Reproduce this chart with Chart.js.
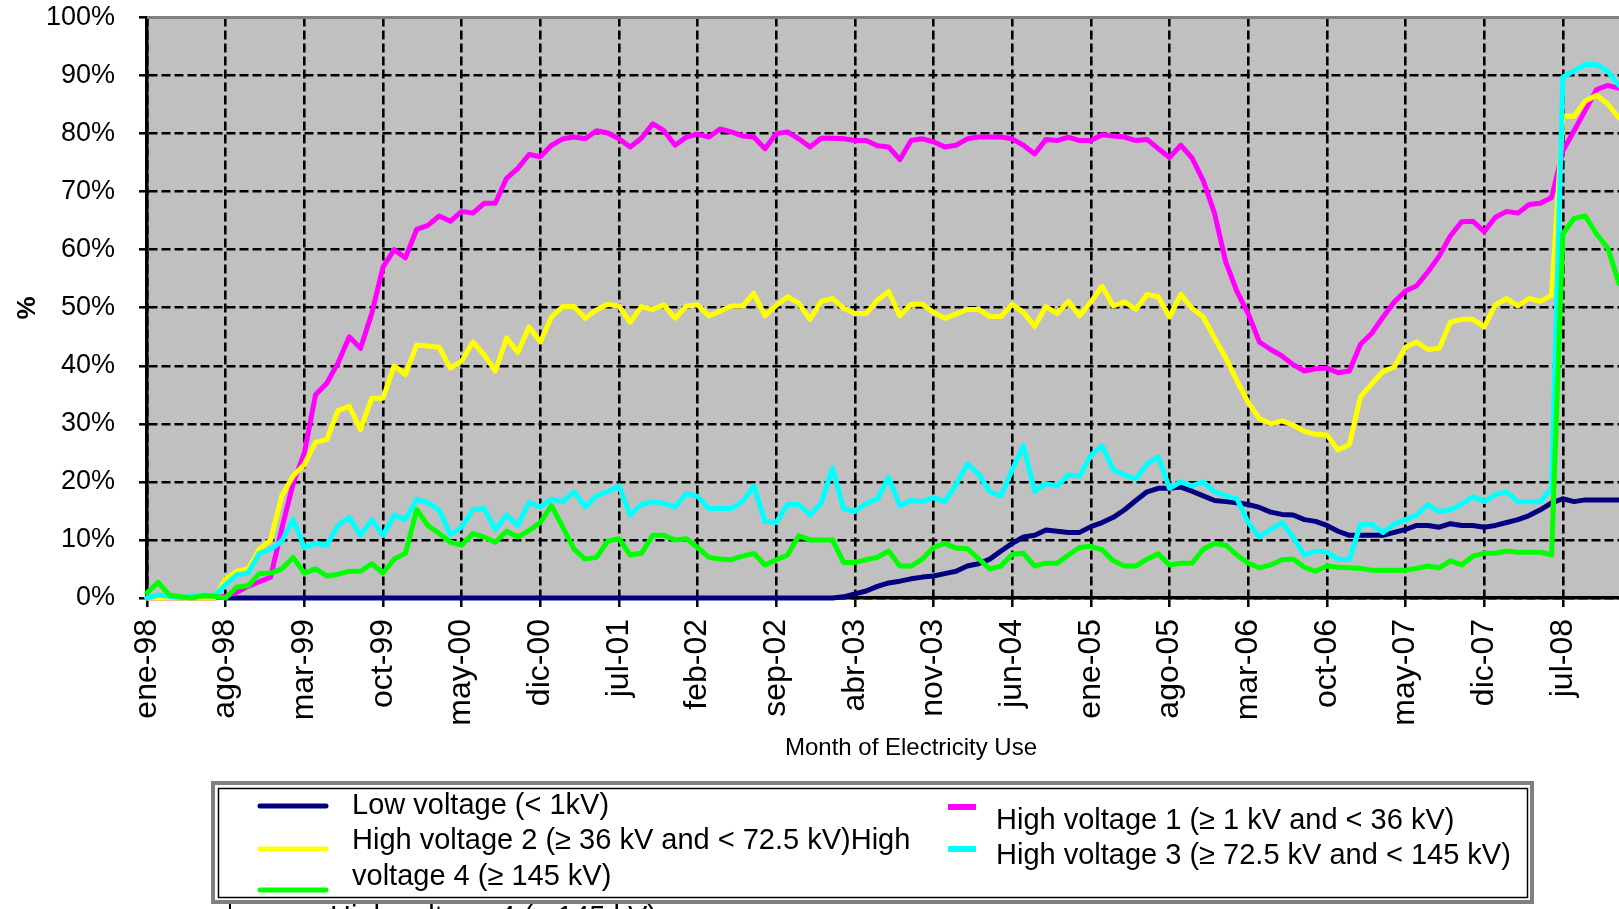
<!DOCTYPE html>
<html>
<head>
<meta charset="utf-8">
<script src="https://cdn.jsdelivr.net/npm/chart.js@4.4.1/dist/chart.umd.min.js"></script>
<style>
html, body { margin: 0; padding: 0; background: #fff; overflow: hidden; }
canvas { display: block; }
</style>
</head>
<body>
<canvas id="chart" width="1619" height="909"></canvas>
<script>
const FONT = "'Liberation Sans', Arial, sans-serif";

// month labels, ene-98 .. dic-08
const MONTHS = ["ene", "feb", "mar", "abr", "may", "jun", "jul", "ago", "sep", "oct", "nov", "dic"];
const YEARS = ["98", "99", "00", "01", "02", "03", "04", "05", "06", "07", "08"];
const LABELS = [];
YEARS.forEach(y => MONTHS.forEach(m => LABELS.push(m + "-" + y)));
const TICK_EVERY = 7;

const SERIES_NAMES = [
    "Low voltage (< 1kV)",
    "High voltage 1 (≥ 1 kV and < 36 kV)",
    "High voltage 2 (≥ 36 kV and < 72.5 kV)",
    "High voltage 3 (≥ 72.5 kV and < 145 kV)",
    "High voltage 4 (≥ 145 kV)",
];
const SERIES_COLORS = ["#000080", "#ff00ff", "#ffff00", "#00ffff", "#00ff00"];

// values in %, one row per year
const LOW = [
    null, null, null, null, null, null, null, 0, 0, 0, 0, 0,
    0, 0, 0, 0, 0, 0, 0, 0, 0, 0, 0, 0,
    0, 0, 0, 0, 0, 0, 0, 0, 0, 0, 0, 0,
    0, 0, 0, 0, 0, 0, 0, 0, 0, 0, 0, 0,
    0, 0, 0, 0, 0, 0, 0, 0, 0, 0, 0, 0,
    0, 0, 0.2, 0.7, 1.2, 2.0, 2.6, 2.9, 3.3, 3.6, 3.8, 4.2,
    4.6, 5.5, 5.9, 6.7, 8.1, 9.4, 10.5, 10.8, 11.7, 11.5, 11.3, 11.3,
    12.3, 13.0, 13.9, 15.2, 16.8, 18.3, 18.9, 18.9, 19.1, 18.4, 17.6, 16.8,
    16.6, 16.4, 16.1, 15.6, 14.8, 14.4, 14.3, 13.5, 13.2, 12.5, 11.5, 10.8,
    10.8, 10.8, 10.8, 11.3, 11.8, 12.5, 12.5, 12.2, 12.8, 12.5, 12.5, 12.2,
    12.5, 13.0, 13.5, 14.2, 15.2, 16.4, 17.1, 16.6, 16.9, 16.9, 16.9, 16.9,
];
const HV1 = [
    0, 0, 0, 0, 0, 0, 0, 0.3, 1.0, 2.0, 2.8, 3.6,
    12, 19.7, 25, 35, 37, 40.5, 45, 43, 49, 57, 60, 58.6,
    63.5, 64.2, 65.8, 64.9, 66.6, 66.3, 68, 68, 72.3, 74, 76.4, 76,
    78, 79.1, 79.4, 79.1, 80.5, 80.1, 79.1, 77.7, 79.2, 81.7, 80.5, 78,
    79.4, 79.9, 79.4, 80.8, 80.3, 79.6, 79.4, 77.4, 80, 80.3, 79.1, 77.7,
    79.2, 79.2, 79.1, 78.8, 78.8, 77.9, 77.7, 75.5, 78.8, 79.1, 78.6, 77.7,
    78, 79.1, 79.4, 79.4, 79.4, 79.1, 78, 76.5, 79, 78.8, 79.4, 78.8,
    78.8, 79.8, 79.6, 79.4, 78.8, 79, 77.4, 75.9, 78, 75.8, 71.9, 66.3,
    57.9, 52.8, 49, 44.1, 42.8, 41.7, 40.2, 39.1, 39.5, 39.6, 38.8, 39.1,
    43.7, 45.6, 48.4, 51, 52.9, 53.8, 56.2, 58.9, 62.4, 64.8, 64.9, 63.1,
    65.6, 66.6, 66.3, 67.8, 68, 69, 77, 80.5, 84, 87.6, 88.3, 87.8,
];
const HV2 = [
    0, 0, 0, 0, 0, 0, 0, 3.3, 4.6, 5.0, 8.4, 10,
    17.6, 21, 23, 26.8, 27.3, 32.3, 33, 29, 34.4, 34.4, 40, 38.5,
    43.6, 43.4, 43.2, 39.6, 40.8, 44.1, 41.9, 39.1, 44.8, 42.3, 46.7, 44.1,
    48.4, 50.2, 50.2, 48.2, 49.6, 50.6, 50.3, 47.5, 50.2, 49.7, 50.5, 48.2,
    50.3, 50.5, 48.6, 49.4, 50.3, 50.3, 52.5, 48.6, 50.4, 51.9, 50.8, 48,
    51.1, 51.6, 49.9, 49, 49, 51.3, 52.8, 48.6, 50.6, 50.6, 49.2, 48.2,
    48.9, 49.7, 49.7, 48.5, 48.5, 50.6, 49.2, 46.8, 50.2, 49, 51.1, 48.6,
    51, 53.7, 50.3, 51, 49.7, 52.3, 51.9, 48.4, 52.3, 49.9, 48.4, 44.8,
    41.4, 37.4, 33.7, 30.9, 30, 30.5, 29.8, 28.7, 28.2, 28.1, 25.5, 26.4,
    34.7, 36.9, 39, 39.8, 43.2, 44.1, 42.8, 43, 47.5, 48, 48, 46.7,
    50.5, 51.6, 50.3, 51.6, 51.1, 52.1, 83, 83, 85.6, 86.6, 85.1, 82.7,
];
const HV3 = [
    0, 0.5, 0.3, 0, 0.3, 0.5, 0.4, 2.3, 4.0, 4.3, 7.7, 8.4,
    9.8, 13.5, 8.7, 9.4, 9.1, 12.5, 13.9, 10.8, 13.5, 10.8, 14.3, 13.5,
    17, 16.4, 15.2, 10.9, 12.2, 15.2, 15.4, 11.8, 14.3, 12.5, 16.5, 15.7,
    17, 16.6, 18.3, 15.7, 17.6, 18.3, 19.3, 14.3, 16.1, 16.6, 16.3, 15.7,
    18, 17.5, 15.4, 15.4, 15.4, 16.6, 19.3, 13.2, 13, 16.1, 16.1, 14.3,
    16.3, 22.4, 15.4, 14.9, 16.3, 17.1, 20.8, 15.9, 16.8, 16.6, 17.3, 16.6,
    19.5, 23.1, 21.4, 18.3, 17.6, 22.1, 26.2, 18.4, 19.7, 19.3, 21.2, 21,
    24.6, 26.2, 22.1, 21.2, 20.5, 23.1, 24.3, 18.9, 20, 19.3, 20, 18.3,
    17.6, 17.1, 13, 10.5, 11.8, 13, 10.5, 7.4, 8.1, 7.9, 6.7, 6.6,
    12.7, 12.7, 11.3, 12.7, 13.5, 14.3, 16.1, 14.9, 15.2, 16.1, 17.5, 16.6,
    17.8, 18.3, 16.6, 16.6, 16.6, 18.9, 89.7, 90.8, 91.9, 91.9, 90.7, 88.3,
];
const HV4 = [
    0.9, 2.7, 0.5, 0.2, 0, 0.4, 0.3, 0, 1.9, 2.1, 4.2, 4.3,
    5, 7, 4.3, 5, 3.8, 4.1, 4.6, 4.6, 5.9, 4.3, 6.7, 7.7,
    15.2, 12.5, 11.1, 9.6, 9.1, 11.1, 10.5, 9.6, 11.5, 10.5, 11.6, 13,
    15.9, 12.2, 8.4, 6.7, 7, 9.8, 10.2, 7.4, 7.7, 10.8, 10.8, 10,
    10.2, 8.7, 7, 6.7, 6.6, 7.2, 7.7, 5.7, 6.6, 7.4, 10.7, 10,
    10, 10, 6.1, 6.1, 6.6, 7, 8.1, 5.5, 5.5, 6.7, 8.7, 9.4,
    8.6, 8.5, 6.8, 5, 5.5, 7.5, 7.7, 5.5, 6, 6, 7.4, 8.7,
    8.9, 8.3, 6.4, 5.5, 5.5, 6.7, 7.6, 5.7, 6, 6, 8.4, 9.4,
    9.1, 7.4, 6, 5.2, 5.7, 6.6, 6.7, 5.3, 4.6, 5.5, 5.3, 5.2,
    5.1, 4.8, 4.8, 4.8, 4.8, 5.1, 5.5, 5.2, 6.4, 5.7, 7.2, 7.7,
    7.7, 8.1, 7.9, 7.9, 7.9, 7.4, 62.7, 65.4, 65.8, 62.7, 60.3, 54.2,
];
const SERIES = [LOW, HV1, HV2, HV3, HV4];

const plotBackground = {
    id: "plotBackground",
    beforeDraw(chart) {
        const ctx = chart.ctx, a = chart.chartArea;
        ctx.save();
        ctx.fillStyle = "#ffffff";
        ctx.fillRect(0, 0, chart.width, chart.height);
        ctx.fillStyle = "#c0c0c0";
        ctx.fillRect(a.left, a.top, a.right - a.left, a.bottom - a.top);
        ctx.restore();
    },
    afterDraw(chart) {
        const ctx = chart.ctx, a = chart.chartArea;
        ctx.save();
        // grey frame line along the top
        ctx.strokeStyle = "#808080";
        ctx.lineWidth = 3;
        ctx.beginPath();
        ctx.moveTo(a.left, a.top);
        ctx.lineTo(a.right, a.top);
        ctx.stroke();

        // axis titles
        ctx.fillStyle = "#000";
        ctx.textAlign = "center";
        ctx.textBaseline = "middle";
        ctx.font = "24px " + FONT;
        ctx.fillText("Month of Electricity Use", 911, 748);
        ctx.save();
        ctx.translate(28, 308);
        ctx.rotate(-Math.PI / 2);
        ctx.font = "bold 26px " + FONT;
        ctx.fillText("%", 0, 0);
        ctx.restore();
        ctx.restore();
    }
};

const legendBox = {
    id: "legendBox",
    afterDraw(chart) {
        const ctx = chart.ctx;
        ctx.save();
        // second legend peeking out underneath
        ctx.font = "29px " + FONT;
        ctx.fillStyle = "#000";
        ctx.textBaseline = "top";
        ctx.textAlign = "left";
        ctx.fillText(SERIES_NAMES[4], 330, 903);
        ctx.fillRect(229, 900, 2, 9);

        ctx.fillStyle = "#ffffff";
        ctx.fillRect(210, 781, 1325, 122);
        ctx.strokeStyle = "#808080";
        ctx.lineWidth = 4;
        ctx.strokeRect(213, 783, 1319, 119);
        ctx.strokeStyle = "#000";
        ctx.lineWidth = 1.5;
        ctx.strokeRect(218.5, 788.5, 1309, 109);

        ctx.lineCap = "round";
        ctx.lineWidth = 5;
        const longMark = (color, y) => {
            ctx.strokeStyle = color;
            ctx.beginPath();
            ctx.moveTo(260, y);
            ctx.lineTo(326, y);
            ctx.stroke();
        };
        longMark(SERIES_COLORS[0], 806);
        longMark(SERIES_COLORS[2], 849);
        longMark(SERIES_COLORS[4], 890);

        ctx.fillStyle = SERIES_COLORS[1];
        ctx.fillRect(948, 804, 28, 6);
        ctx.fillStyle = SERIES_COLORS[3];
        ctx.fillRect(948, 846, 28, 6);

        ctx.fillStyle = "#000";
        ctx.textBaseline = "middle";
        ctx.font = "29px " + FONT;
        const wrapped = SERIES_NAMES[2] + SERIES_NAMES[4];
        const cut = SERIES_NAMES[2].length + "High".length;
        ctx.fillText(SERIES_NAMES[0], 352, 806);
        ctx.fillText(wrapped.slice(0, cut), 352, 841);
        ctx.fillText(wrapped.slice(cut + 1), 352, 877);
        ctx.fillText(SERIES_NAMES[1], 996, 821);
        ctx.fillText(SERIES_NAMES[3], 996, 856);
        ctx.restore();
    }
};

const gridStyle = {
    color: "#000",
    lineWidth: 2.6,
    tickBorderDash: [],
    tickColor: "#000",
    tickWidth: 2.5,
};
const borderStyle = {display: true, color: "#000", width: 3.5, dash: [9, 4]};

new Chart(document.getElementById("chart"), {
    type: "line",
    data: {
        labels: LABELS,
        datasets: SERIES.map((values, i) => ({
            label: SERIES_NAMES[i],
            data: values,
            borderColor: SERIES_COLORS[i],
            backgroundColor: SERIES_COLORS[i],
            borderWidth: 5,
            pointRadius: 0,
            tension: 0,
            fill: false,
            clip: false,
            borderJoinStyle: "round",
            borderCapStyle: "round",
            order: SERIES.length - i,
        })),
    },
    plugins: [plotBackground, legendBox],
    options: {
        responsive: false,
        animation: false,
        events: [],
        layout: {
            padding: {left: 0, right: 0, top: 17.5, bottom: 149},
        },
        scales: {
            x: {
                type: "category",
                offset: false,
                border: borderStyle,
                grid: Object.assign({}, gridStyle, {tickLength: 9}),
                ticks: {
                    autoSkip: false,
                    minRotation: 90,
                    maxRotation: 90,
                    padding: 12,
                    color: "#000",
                    font: {family: FONT, size: 32},
                    callback: (v, i) => (i % TICK_EVERY === 0 ? LABELS[i] : null),
                },
                afterFit: (scale) => { scale.height = 162; },
            },
            y: {
                min: 0,
                max: 100,
                border: borderStyle,
                grid: Object.assign({}, gridStyle, {tickLength: 8}),
                ticks: {
                    stepSize: 10,
                    padding: 24,
                    color: "#000",
                    font: {family: FONT, size: 27},
                    callback: (v) => v + "%",
                },
                afterFit: (scale) => {
                    scale.width = 147;
                    scale.paddingTop = 0;
                    scale.paddingBottom = 0;
                },
            },
        },
        plugins: {
            legend: {display: false},
            tooltip: {enabled: false},
            title: {display: false},
        },
    },
});
</script>
</body>
</html>
